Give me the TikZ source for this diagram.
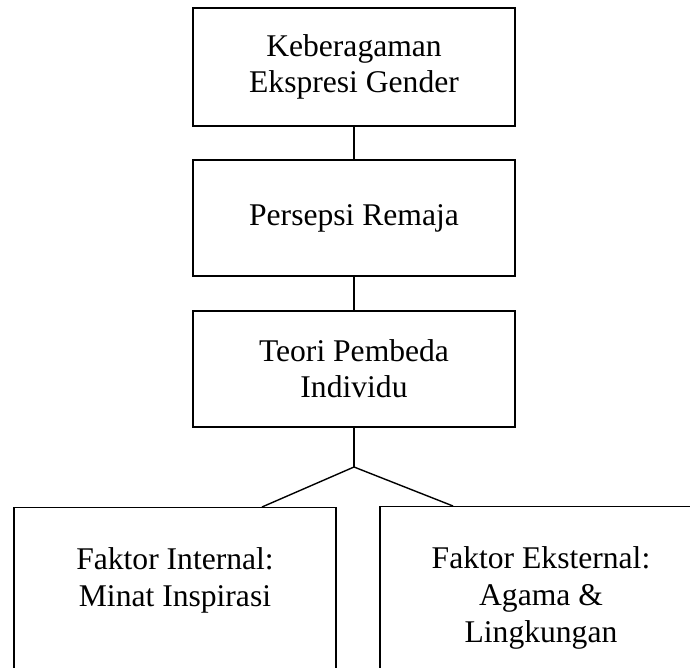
\documentclass[tikz,border=0pt]{standalone}
\usepackage{fontspec}
\setmainfont{Liberation Serif}
\usetikzlibrary{positioning}

\tikzset{
  box/.style={draw, line width=0.7pt, minimum width=161pt, inner sep=0pt,
    align=center, font=\fontsize{15.8}{18}\selectfont},
  lowtext/.style={inner sep=0pt, align=center, font=\fontsize{15.8}{18.5}\selectfont},
  link/.style={line width=0.7pt}
}

\begin{document}
\begin{tikzpicture}[x=0.5pt, y=-0.5pt]
    \useasboundingbox (0,0) rectangle (690,668);
    \clip (0,0) rectangle (690,668);

    \node [box, minimum height=59pt] (gender) at (354, 67) {Keberagaman\\Ekspresi Gender};
    \node [box, minimum height=58pt] (persepsi) at (354, 218) {Persepsi Remaja};
    \node [box, minimum height=58pt] (teori) at (354, 369) {Teori Pembeda\\Individu};
    \coordinate (split) at (354, 467);

    \node [box, minimum height=100pt, anchor=north] (internal) at (175, 507) {};
    \node [box, minimum height=100pt, anchor=north] (eksternal) at (541, 506) {};
    \node [lowtext, below=20pt of internal.north] (internaltext) {Faktor Internal:\\Minat Inspirasi};
    \node [lowtext, below=20pt of eksternal.north] (eksternaltext) {Faktor Eksternal:\\Agama \&\\Lingkungan};

    \draw [link] (gender) -- (persepsi);
    \draw [link] (persepsi) -- (teori);
    \draw [link] (teori) -- (split);
    \draw [link] (split) -- ([xshift=43.5pt]internal.north);
    \draw [link] (split) -- ([xshift=-44pt]eksternal.north);
  \end{tikzpicture}
\end{document}
